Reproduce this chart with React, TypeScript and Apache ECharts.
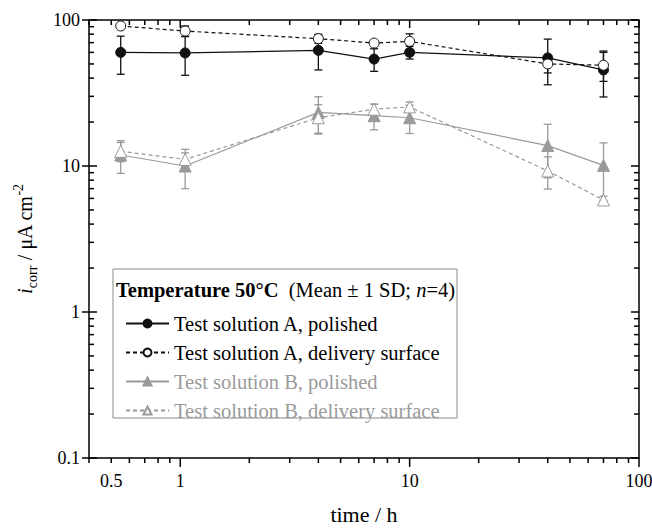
import React, { useEffect, useRef } from "react";
import * as echarts from "echarts";

const times = [0.55, 1.05, 4, 7, 10, 40, 70];
const aPolishedMean = [60, 59.5, 62, 54, 60, 55, 45.5];
const aPolishedSd = [17.5, 17.7, 16.5, 9.5, 6, 19, 15.8];
const aDeliveryMean = [91, 84, 74.5, 69.5, 71.4, 50, 49];
const aDeliverySd = [3, 7, 5.3, 3, 9, 6.6, 11];
const bPolishedMean = [11.9, 10, 23.3, 22.1, 21.4, 13.8, 10.1];
const bPolishedSd = [3, 3, 6.5, 4.4, 4.7, 5.5, 4.3];
const bDeliveryMean = [12.6, 11.1, 21.4, 24.5, 25.4, 9.25, 5.85];
const bDeliverySd = [1.9, 1.2, 4.9, 2, 2, 2.3, 0.35];

const xTickLabels = [0.5, 1, 10, 100];
const yTickLabels = [0.1, 1, 10, 100];

const X_MIN = 0.4;
const X_MAX = 100;
const Y_MIN = 0.1;
const Y_MAX = 100;

const BLACK = "#111";
const GRAY = "#9a9a9a";
const FONT = '"Liberation Serif", "Times New Roman", serif';

const names = [
  "Test solution A, polished",
  "Test solution A, delivery surface",
  "Test solution B, polished",
  "Test solution B, delivery surface",
];

function isPow10(v: number) {
  const l = Math.log10(v);
  return Math.abs(l - Math.round(l)) < 1e-9;
}

function tickValues(min: number, max: number) {
  const out: number[] = [];
  for (let e = -2; e <= 3; e++) {
    const d = Math.pow(10, e);
    for (let k = 1; k <= 9; k++) {
      const v = Number((k * d).toPrecision(6));
      if (v >= min - 1e-9 && v <= max + 1e-9) out.push(v);
    }
  }
  return out;
}

function fmt(v: number) {
  return String(v);
}

export default function App() {
  const ref = useRef<HTMLDivElement>(null);
  useEffect(() => {
    if (!ref.current) return;
    const chart = echarts.init(ref.current, null, { renderer: "svg" });

    const errData = (mean: number[], sd: number[]) =>
      times.map((t, i) => [t, Math.max(mean[i] - sd[i], 0.11), mean[i] + sd[i]]);

    const errSeries = (name: string, mean: number[], sd: number[], color: string) => ({
      type: "custom",
      name: name + " SD",
      data: errData(mean, sd),
      encode: { x: 0, y: [1, 2] },
      z: 2,
      silent: true,
      renderItem: (params: any, api: any) => {
        const x = api.value(0);
        const lo = api.coord([x, api.value(1)]);
        const hi = api.coord([x, api.value(2)]);
        const w = 4;
        const st = { stroke: color, lineWidth: 1.3 };
        return {
          type: "group",
          children: [
            { type: "line", shape: { x1: lo[0], y1: lo[1], x2: hi[0], y2: hi[1] }, style: st },
            { type: "line", shape: { x1: lo[0] - w, y1: lo[1], x2: lo[0] + w, y2: lo[1] }, style: st },
            { type: "line", shape: { x1: hi[0] - w, y1: hi[1], x2: hi[0] + w, y2: hi[1] }, style: st },
          ],
        };
      },
    });

    const xTicks = tickValues(X_MIN, X_MAX);
    const yTicks = tickValues(Y_MIN, Y_MAX);

    const tickStyle = { stroke: "#000", lineWidth: 1.5 };
    const labelFont = { fill: "#000", fontSize: 18, fontFamily: FONT };

    const xTickSeries = {
      type: "custom",
      name: "xticks",
      silent: true,
      data: xTicks.map((v) => [v, Y_MIN]),
      z: 5,
      renderItem: (params: any, api: any) => {
        const v = api.value(0);
        const cs = params.coordSys;
        const px = api.coord([v, Y_MIN])[0];
        const bottom = cs.y + cs.height;
        const top = cs.y;
        const major = isPow10(v);
        const L = major ? 9 : 5;
        const children: any[] = [
          { type: "line", shape: { x1: px, y1: bottom, x2: px, y2: bottom + L }, style: tickStyle },
          { type: "line", shape: { x1: px, y1: top, x2: px, y2: top + (major ? 8 : 5) }, style: tickStyle },
        ];
        if (xTickLabels.some((l) => Math.abs(l - v) < 1e-9)) {
          children.push({
            type: "text",
            style: { ...labelFont, text: fmt(v), x: px, y: bottom + 23, align: "center", verticalAlign: "middle" },
          });
        }
        return { type: "group", children };
      },
    };

    const yTickSeries = {
      type: "custom",
      name: "yticks",
      silent: true,
      data: yTicks.map((v) => [X_MIN, v]),
      z: 5,
      renderItem: (params: any, api: any) => {
        const v = api.value(1);
        const cs = params.coordSys;
        const py = api.coord([X_MIN, v])[1];
        const left = cs.x;
        const right = cs.x + cs.width;
        const major = isPow10(v);
        const L = major ? 8 : 5;
        const children: any[] = [
          { type: "line", shape: { x1: left - (major ? 7 : 0), y1: py, x2: left + L, y2: py }, style: tickStyle },
          { type: "line", shape: { x1: right, y1: py, x2: right - L, y2: py }, style: tickStyle },
        ];
        if (yTickLabels.some((l) => Math.abs(l - v) < 1e-9)) {
          children.push({
            type: "text",
            style: { ...labelFont, text: fmt(v), x: left - 9, y: py, align: "right", verticalAlign: "middle" },
          });
        }
        return { type: "group", children };
      },
    };

    const lineSeries = (
      name: string,
      mean: number[],
      lineColor: string,
      dashed: boolean,
      symbol: string,
      size: number,
      fill: string
    ) => ({
      type: "line",
      name,
      data: times.map((t, i) => [t, mean[i]]),
      z: 3,
      symbol,
      symbolSize: size,
      showAllSymbol: true,
      lineStyle: { color: lineColor, width: 1.2, type: dashed ? [4, 3] : "solid" },
      itemStyle: { color: fill, borderColor: lineColor, borderWidth: 1 },
      emphasis: { disabled: true },
    });

    chart.setOption({
      animation: false,
      backgroundColor: "#fff",
      grid: {
        left: 89,
        right: 13,
        top: 20,
        bottom: 66,
        show: true,
        borderColor: "#000",
        borderWidth: 1.5,
        backgroundColor: "transparent",
      },
      xAxis: {
        type: "log",
        logBase: 10,
        min: X_MIN,
        max: X_MAX,
        axisLine: { show: false },
        axisTick: { show: false },
        axisLabel: { show: false },
        splitLine: { show: false },
        name: "time / h",
        nameLocation: "middle",
        nameGap: 45,
        nameTextStyle: { fontFamily: FONT, fontSize: 22, color: "#000" },
      },
      yAxis: {
        type: "log",
        logBase: 10,
        min: Y_MIN,
        max: Y_MAX,
        axisLine: { show: false },
        axisTick: { show: false },
        axisLabel: { show: false },
        splitLine: { show: false },
        name: "{i|i}{s|corr}{t| / μA cm}{p|-2}",
        nameLocation: "middle",
        nameRotate: 90,
        nameGap: 50,
        nameTextStyle: {
          fontFamily: FONT,
          fontSize: 20,
          color: "#000",
          rich: {
            i: { fontFamily: FONT, fontSize: 21, fontStyle: "italic", lineHeight: 28, color: "#000" },
            s: { fontFamily: FONT, fontSize: 14, lineHeight: 15, verticalAlign: "bottom", color: "#000" },
            t: { fontFamily: FONT, fontSize: 20, lineHeight: 28, color: "#000" },
            p: { fontFamily: FONT, fontSize: 14, lineHeight: 15, verticalAlign: "top", color: "#000" },
          },
        },
      },
      legend: {
        show: true,
        orient: "vertical",
        left: 120,
        top: 308,
        itemWidth: 43,
        itemHeight: 10,
        itemGap: 8,
        z: 6,
        selectedMode: false,
        textStyle: { fontFamily: FONT, fontSize: 20.5, lineHeight: 20, color: "#000" },
        data: [
          { name: names[0], textStyle: { color: "#000" } },
          { name: names[1], textStyle: { color: "#000" } },
          { name: names[2], textStyle: { color: GRAY } },
          { name: names[3], textStyle: { color: GRAY } },
        ],
      },
      graphic: [
        {
          type: "rect",
          z: 3,
          shape: { x: 113, y: 269, width: 344, height: 149 },
          style: { fill: "#fff", stroke: "#8a8a8a", lineWidth: 1 },
        },
        {
          type: "text",
          z: 6,
          x: 116,
          y: 290,
          style: {
            text: "{b|Temperature 50°C}{r|  (Mean ± 1 SD; }{n|n}{r|=4)}",
            verticalAlign: "middle",
            fill: "#000",
            font: "20px " + FONT,
            rich: {
              b: { fontFamily: FONT, fontSize: 20.5, fontWeight: "bold", fill: "#000" },
              r: { fontFamily: FONT, fontSize: 20.5, fill: "#000" },
              n: { fontFamily: FONT, fontSize: 20.5, fontStyle: "italic", fill: "#000" },
            },
          },
        },
      ],
      series: [
        errSeries(names[2], bPolishedMean, bPolishedSd, GRAY),
        errSeries(names[3], bDeliveryMean, bDeliverySd, GRAY),
        errSeries(names[0], aPolishedMean, aPolishedSd, BLACK),
        errSeries(names[1], aDeliveryMean, aDeliverySd, BLACK),
        lineSeries(names[2], bPolishedMean, GRAY, false, "triangle", 12, GRAY),
        lineSeries(names[3], bDeliveryMean, GRAY, true, "triangle", 12, "#fff"),
        lineSeries(names[0], aPolishedMean, BLACK, false, "circle", 10, BLACK),
        lineSeries(names[1], aDeliveryMean, BLACK, true, "circle", 10, "#fff"),
        xTickSeries,
        yTickSeries,
      ],
    });
    return () => chart.dispose();
  }, []);
  return (
    <div
      ref={ref}
      style={{ position: "fixed", left: 0, top: 0, width: 652, height: 530, background: "#fff" }}
    />
  );
}
